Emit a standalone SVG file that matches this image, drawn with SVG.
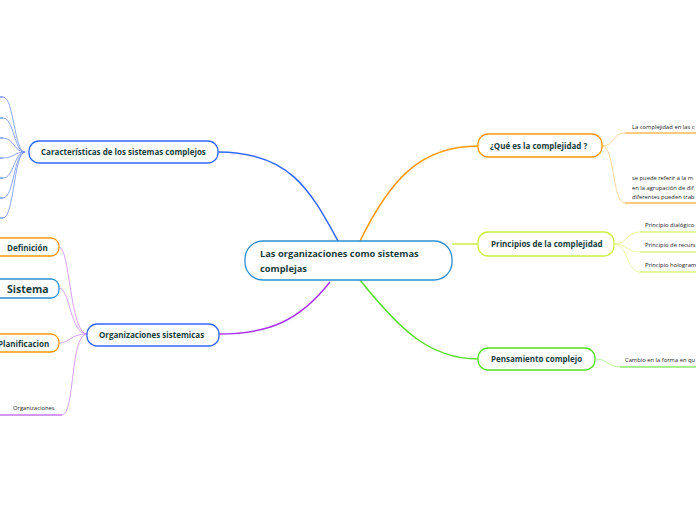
<svg xmlns="http://www.w3.org/2000/svg" width="696" height="520" viewBox="0 0 696 520">
<style>
text{font-family:"Open Sans","Noto Sans",sans-serif;fill:#183c3c}
.b{font-weight:bold;font-size:8px}
.s{font-size:5.8px;fill:#222}
rect{fill:#fff;stroke-width:1.3}
path{fill:none}
</style>
<rect x="0" y="0" width="696" height="520" style="fill:#fff;stroke:none"/>
<g id="connectors">
<path d="M218,152 C290,152 310,190 338,241" stroke="#3366ff" stroke-width="1.5"/>
<path d="M360,241 C390,180 420,146 478,146" stroke="#ff9900" stroke-width="1.5"/>
<path d="M452,244 C465,244 465,244 478,244" stroke="#ccee44" stroke-width="1.5"/>
<path d="M360,280 C400,330 430,359 478,359" stroke="#55dd22" stroke-width="1.5"/>
<path d="M330,282 C300,320 270,334 219,334" stroke="#aa33ee" stroke-width="1.5"/>
<g stroke="#6f8fff" stroke-width="0.8">
<path d="M25,152 C14,152 14,97 3,97"/><path d="M25,152 C14,152 14,118 3,118"/><path d="M25,152 C14,152 14,138 3,138"/><path d="M25,152 C14,152 14,158 3,158"/><path d="M25,152 C14,152 14,178 3,178"/><path d="M25,152 C14,152 14,198 3,198"/><path d="M25,152 C14,152 14,218 3,218"/>
</g>
<g stroke="#3366ff" stroke-width="1.2"><path d="M0,97H3M0,118H3M0,138H3M0,158H3M0,178H3M0,198H3M0,218H3"/></g>
<g stroke="#cc88ff" stroke-width="0.8">
<path d="M87,334 C70,334 70,247 59,247"/><path d="M87,334 C70,334 70,288 59,288"/><path d="M87,334 C70,334 70,343 59,343"/><path d="M87,334 C70,334 75,415 62,415"/>
</g>
<path d="M0,415H62" stroke="#aa33ee" stroke-width="1.2"/>
<g stroke="#ffcc88" stroke-width="0.8"><path d="M602,146 C615,146 612,133 625,133"/><path d="M602,146 C615,146 612,203 625,203"/></g>
<path d="M625,133H696M625,203H696" stroke="#ff9900" stroke-width="1.2"/>
<g stroke="#e6f58a" stroke-width="0.8"><path d="M614,244 C628,244 626,232 640,232"/><path d="M614,244 C628,244 626,252 640,252"/><path d="M614,244 C628,244 626,272 640,272"/></g>
<path d="M640,232H696M640,252H696M640,272H696" stroke="#ccee44" stroke-width="1.2"/>
<path d="M595,359 C608,359 608,367 620,367" stroke="#aaee88" stroke-width="0.8"/>
<path d="M620,367H696" stroke="#55dd22" stroke-width="1.2"/>
</g>
<g id="center"><rect x="245" y="241" width="207" height="39" rx="18" stroke="#2a8fd0"/><text class="b" x="260" y="257" style="font-size:9.3px">Las organizaciones como sistemas</text><text class="b" x="260" y="272" style="font-size:9.3px">complejas</text></g>
<g id="caracteristicas"><rect x="29" y="141" width="189" height="22" rx="10" stroke="#3366ff"/><text class="b" x="41" y="155">Características de los sistemas complejos</text></g>
<g id="quees"><rect x="478" y="134" width="124" height="23" rx="10" stroke="#ff9900"/><text class="b" x="490" y="149">¿Qué es la complejidad ?</text></g>
<g id="principios"><rect x="478" y="232" width="136" height="24" rx="10" stroke="#ccee44"/><text class="b" x="491" y="247">Principios de la complejidad</text></g>
<g id="pensamiento"><rect x="478" y="348" width="117" height="22" rx="10" stroke="#55dd22"/><text class="b" x="491" y="362">Pensamiento complejo</text></g>
<g id="orgsis"><rect x="87" y="324" width="132" height="22" rx="10" stroke="#3366ff"/><text class="b" x="99" y="338">Organizaciones sistemicas</text></g>
<g id="definicion"><rect x="-10" y="238" width="69" height="18" rx="8" stroke="#ff9900"/><text class="b" x="7" y="251">Definición</text></g>
<g id="sistema"><rect x="-10" y="279" width="69" height="19" rx="8" stroke="#2a8fd0"/><text class="b" x="7" y="293" style="font-size:10.5px">Sistema</text></g>
<g id="planificacion"><rect x="-10" y="334" width="69" height="18" rx="8" stroke="#ff9900"/><text class="b" x="-2" y="347">Planificacion</text></g>
<g id="organizaciones"><text class="s" x="13" y="410">Organizaciones</text></g>
<g id="leaves">
<text class="s" x="632" y="129">La complejidad  en las c</text>
<text class="s" x="632" y="180">se puede referir a la m</text>
<text class="s" x="632" y="190">en la agrupación de dif</text>
<text class="s" x="632" y="199">diferentes  pueden trab</text>
<text class="s" x="645" y="227">Principio dialógico</text>
<text class="s" x="645" y="247">Principio de recurs</text>
<text class="s" x="645" y="267">Principio hologram</text>
<text class="s" x="625" y="362">Cambio en la forma en qu</text>
</g>
</svg>
